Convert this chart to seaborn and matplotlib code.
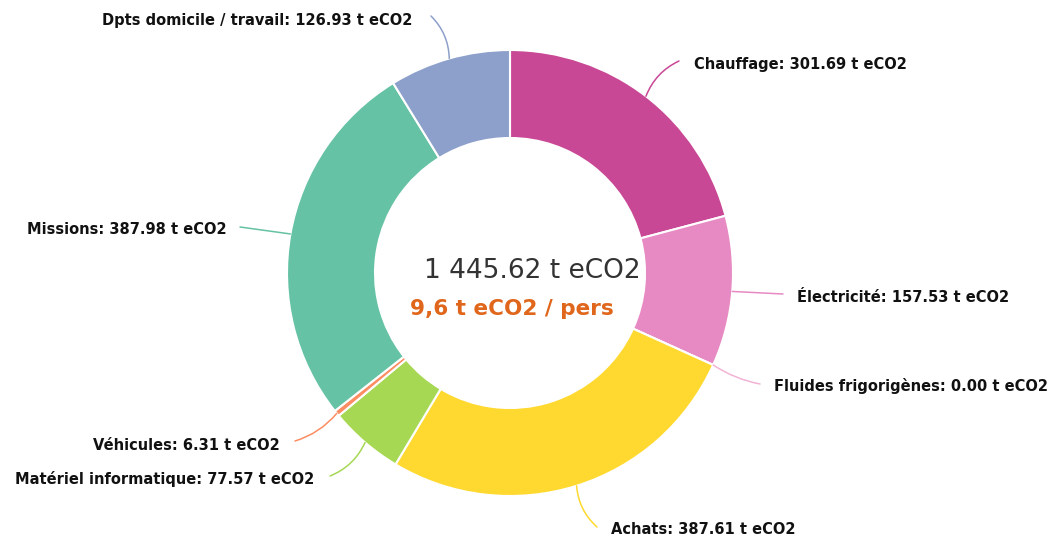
import numpy as np
import matplotlib
matplotlib.use("Agg")
import matplotlib.pyplot as plt
import seaborn as sns

categories = ["Chauffage", "Électricité", "Fluides frigorigènes", "Achats",
              "Matériel informatique", "Véhicules", "Missions", "Dpts domicile / travail"]
values = [301.69, 157.53, 0.00, 387.61, 77.57, 6.31, 387.98, 126.93]
colors = ["#c94896", "#e78ac3", "#f2b3d5", "#ffd92f", "#a6d854", "#fc8d62", "#66c2a5", "#8da0cb"]
total_text = "1 445.62 t eCO2"
per_person_text = "9,6 t eCO2 / pers"

# label layout (pixel coordinates, y downward): text anchor, line end, alignment, curvature
label_pos = [(694, 65), (797, 297), (774, 386), (611, 530), (314, 479), (280, 445), (227, 229), (412, 20)]
line_end = [(679, 61), (783, 294), (760, 384), (597, 527), (330, 476), (295, 441), (240, 227), (431, 16)]
aligns = ["left", "left", "left", "left", "right", "right", "right", "right"]
rads = [0.2, 0.0, -0.1, -0.2, 0.2, 0.15, 0.0, -0.2]

sns.set_theme(style="white")
plt.rcParams['font.family'] = ['DejaVu Sans']

W, H = 1051, 537
fig = plt.figure(figsize=(W / 100, H / 100), dpi=100)
ax = fig.add_axes([0, 0, 1, 1])

cx, cy, R, r_in = 510, 273, 223, 135
wedges, _ = ax.pie(values, colors=colors, startangle=-90, counterclock=True,
                   center=(cx, cy), radius=R,
                   wedgeprops=dict(width=R - r_in, edgecolor="white", linewidth=1.5))
ax.set_xlim(0, W)
ax.set_ylim(H, 0)
ax.set_aspect("equal")
ax.axis("off")

vals = np.array(values)
cum = np.cumsum(vals) - vals / 2
fracs = cum / vals.sum()
for i, cat in enumerate(categories):
    ang = 2 * np.pi * fracs[i]
    sx = cx + R * np.sin(ang)
    sy = cy - R * np.cos(ang)
    ax.annotate("", xy=(sx, sy), xytext=line_end[i],
                arrowprops=dict(arrowstyle="-", color=colors[i], lw=1.1,
                                connectionstyle=f"arc3,rad={rads[i]}",
                                shrinkA=0, shrinkB=0))
    ax.text(label_pos[i][0], label_pos[i][1], f"{cat}: {values[i]:.2f} t eCO2",
            ha=aligns[i], va="center", fontsize=10.5, fontweight="bold", color="#111111")

ax.text(532, 271, total_text, ha="center", va="center", fontsize=19, color="#333333")
ax.text(512, 309, per_person_text, ha="center", va="center", fontsize=15.5,
        fontweight="bold", color="#e0661b")

fig.savefig("out.png", dpi=100, facecolor="white")
